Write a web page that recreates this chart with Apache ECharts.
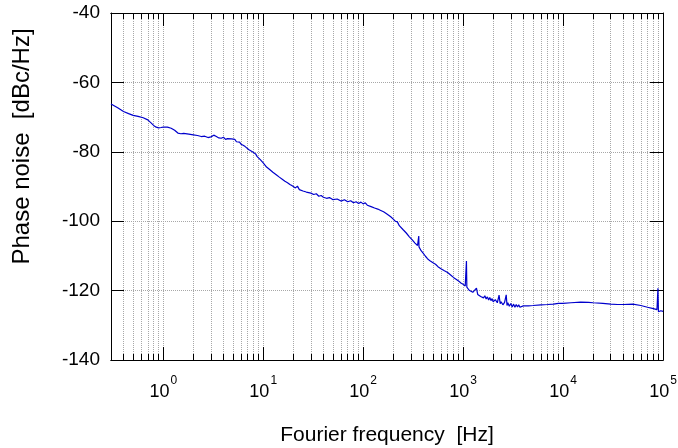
<!DOCTYPE html>
<html>
<head>
<meta charset="utf-8">
<script src="https://cdn.jsdelivr.net/npm/echarts@6/dist/echarts.min.js"></script>
<style>
html,body{margin:0;padding:0;background:#fff;}
#chart{width:678px;height:448px;}
</style>
</head>
<body>
<div id="chart"></div>
<script>
// Fourier frequency [Hz]
var freq = [
  0.3,0.35,0.4,0.45,0.5,0.56,0.63,0.7,0.75,0.8,
  0.85,0.9,0.95,1.0,1.1,1.2,1.3,1.4,1.5,1.6,
  1.8,2.0,2.2,2.4,2.6,2.8,3.0,3.2,3.4,3.6,
  3.8,4.0,4.2,4.4,4.6,4.8,5.0,5.2,5.4,5.6,
  5.8,6.0,6.3,6.6,6.9,7.2,7.5,7.8,8.1,8.4,
  8.7,9.0,9.3,9.6,10,10.4,10.8,11.2,11.6,12,
  12.5,13,13.5,14,14.5,15,15.5,16,16.5,17,
  17.5,18,18.5,19,19.5,20,21,22,23,24,
  25,26,27,28,30,32,34,36,38,40,
  43,46,50,55,60,65,70,75,80,85,
  90,95,100,105,110,115,120,125,130,135,
  140,145,150,155,160,165,170,175,180,185,
  190,195,200,205,210,220,230,240,250,260,
  270,280,290,300,310,320,330,340,350,358,
  360,362,370,380,390,400,420,440,470,500,
  530,560,600,650,700,750,800,850,900,950,
  1000,1050,1080,1090,1100,1150,1200,1250,1300,1360,
  1400,1450,1500,1550,1600,1650,1700,1750,1800,1850,
  1900,1950,2000,2100,2200,2290,2350,2400,2500,2600,
  2700,2750,2800,2900,3000,3100,3200,3300,3400,3500,
  3600,3700,3800,4000,4500,5000,6000,7000,8000,9000,
  10000,12000,15000,18000,20000,25000,30000,35000,40000,50000,
  60000,70000,80000,87000,89000,90000,95000,100000
];
// Phase noise [dBc/Hz]
var noise = [
  -66.2,-67.3,-68.4,-69.0,-69.5,-69.8,-70.2,-70.8,-71.6,-72.4,
  -72.9,-73.1,-73.0,-72.9,-72.9,-73.2,-73.8,-74.6,-74.8,-74.7,
  -74.9,-75.1,-75.3,-75.6,-75.5,-75.9,-75.7,-75.2,-75.6,-76.0,
  -76.1,-75.8,-76.4,-76.2,-76.6,-76.3,-76.8,-76.4,-77.1,-77.4,
  -77.2,-77.8,-78.1,-78.5,-78.4,-79.4,-79.2,-80.0,-80.3,-80.6,
  -81.4,-81.3,-82.2,-82.4,-83.2,-83.3,-84.4,-84.2,-85.1,-85.0,
  -85.9,-85.6,-86.6,-86.3,-87.3,-87.0,-87.9,-87.6,-88.5,-88.2,
  -88.9,-88.5,-89.4,-89.0,-89.8,-89.4,-90.4,-89.9,-90.9,-90.5,
  -91.3,-90.9,-91.6,-91.2,-91.9,-92.3,-92.1,-92.8,-92.6,-93.1,
  -93.4,-93.2,-93.8,-93.6,-94.2,-93.8,-94.4,-94.1,-94.7,-94.4,
  -94.9,-94.5,-95.0,-94.7,-95.4,-95.1,-95.8,-95.4,-96.2,-95.8,
  -96.5,-96.1,-96.9,-96.5,-97.3,-96.9,-97.8,-97.4,-98.3,-97.9,
  -98.8,-98.5,-99.4,-99.0,-100.0,-100.2,-101.3,-101.2,-102.4,-102.3,
  -103.4,-103.3,-104.5,-104.3,-105.4,-105.2,-106.3,-106.1,-107.0,-106.6,
  -104.3,-107.4,-107.8,-108.5,-108.4,-109.3,-110.1,-110.8,-111.5,-112.0,
  -112.4,-113.1,-113.7,-114.3,-114.8,-115.5,-116.2,-116.7,-117.2,-117.8,
  -118.2,-118.7,-111.5,-119.0,-119.2,-119.9,-119.6,-120.5,-120.2,-119.3,
  -121.1,-120.6,-121.7,-121.2,-122.1,-121.5,-122.4,-121.8,-122.7,-122.0,
  -122.9,-122.3,-123.2,-122.6,-123.5,-121.3,-123.8,-123.2,-124.1,-123.4,
  -121.2,-124.3,-123.5,-124.5,-123.7,-124.7,-123.9,-124.8,-124.0,-124.7,
  -124.1,-124.8,-124.3,-124.4,-124.4,-124.3,-124.1,-124.0,-123.9,-123.7,
  -123.7,-123.5,-123.3,-123.4,-123.5,-123.7,-123.9,-124.0,-124.0,-123.9,
  -124.3,-124.8,-125.2,-125.5,-119.3,-126.1,-125.8,-126.0
];
// x-axis ticks (decades) and minor grid positions
var majorTicks = [1,10,100,1000,10000,100000];
var minorTicks = [0.3,0.4,0.5,0.6,0.7,0.8,0.9,2,3,4,5,6,7,8,9,20,30,40,50,60,70,80,90,200,300,400,500,600,700,800,900,2000,3000,4000,5000,6000,7000,8000,9000,20000,30000,40000,50000,60000,70000,80000,90000];
var yTicks = [-140,-120,-100,-80,-60,-40];

var FONT = 'Liberation Sans, Arial, sans-serif';
var gridLine = {show:true, lineStyle:{color:'#a8a8a8', type:[1,1], width:1}};
var axLine = {show:true, onZero:false, lineStyle:{color:'#000', width:1}};

function xAx(pos, ticks, len, withLabel, withSplit){
  var a = {
    type:'log', logBase:10, min:0.3, max:100000, position:pos, gridIndex:0,
    axisLine: axLine,
    axisTick:{show:true, inside:true, length:len, customValues:ticks, lineStyle:{color:'#000', width:1}},
    axisLabel:{show:false},
    splitLine: withSplit ? gridLine : {show:false},
    minorTick:{show:false}, minorSplitLine:{show:false}
  };
  if (withLabel) {
    a.axisLabel = {
      show:true, customValues:ticks, margin:15, color:'#000', fontFamily:FONT,
      formatter:function(v){ return '{b|10}{s|' + Math.round(Math.log10(v)) + '}'; },
      rich:{
        b:{fontSize:18, fontFamily:FONT, color:'#000', lineHeight:26, verticalAlign:'bottom'},
        s:{fontSize:12, fontFamily:FONT, color:'#000', lineHeight:12, verticalAlign:'top', padding:[0,0,0,1]}
      }
    };
    a.name = 'Fourier frequency  [Hz]';
    a.nameLocation = 'middle';
    a.nameGap = 65;
    a.nameTextStyle = {fontSize:21, fontFamily:FONT, color:'#000', verticalAlign:'top'};
  }
  return a;
}

var chart = echarts.init(document.getElementById('chart'), null, {renderer:'canvas'});
chart.setOption({
  animation:false,
  backgroundColor:'#fff',
  grid:{left:111, right:15, top:13, bottom:88, containLabel:false, outerBoundsMode:'none'},
  xAxis:[
    xAx('bottom', majorTicks, 13, true, true),
    xAx('bottom', minorTicks, 6, false, true),
    xAx('top', majorTicks, 13, false, false),
    xAx('top', minorTicks, 6, false, false)
  ],
  yAxis:[
    {type:'value', min:-140, max:-40, interval:20, position:'left',
     axisLine:axLine,
     axisTick:{show:true, inside:true, length:13, lineStyle:{color:'#000'}},
     axisLabel:{show:true, margin:11, fontSize:19, fontFamily:FONT, color:'#000',
       customValues: yTicks},
     splitLine:gridLine,
     name:'Phase noise  [dBc/Hz]', nameLocation:'middle', nameGap:77, nameRotate:90,
     nameTextStyle:{fontSize:24, fontFamily:FONT, color:'#000', padding:[0,0,0,80]}
    },
    {type:'value', min:-140, max:-40, interval:20, position:'right',
     axisLine:axLine,
     axisTick:{show:true, inside:true, length:13, lineStyle:{color:'#000'}},
     axisLabel:{show:false}, splitLine:{show:false}}
  ],
  series:[{
    type:'line', xAxisIndex:0, yAxisIndex:0,
    data: freq.map(function(f,i){ return [f, noise[i]]; }),
    showSymbol:false, symbol:'none',
    lineStyle:{color:'#0000cc', width:1.2},
    itemStyle:{color:'#0000cc'}
  }]
});
</script>
</body>
</html>
